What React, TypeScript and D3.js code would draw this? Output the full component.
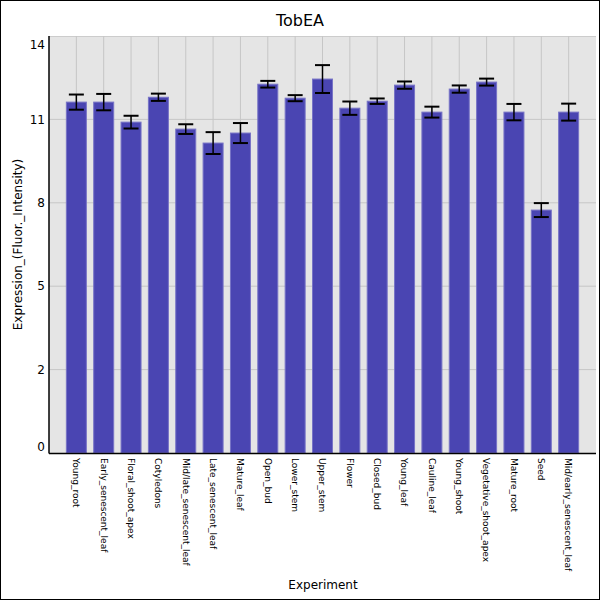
import React, { useEffect } from 'react';
import * as d3 from 'd3';

// Data
const experiments = [
  'Young_root', 'Early_senescent_leaf', 'Floral_shoot_apex', 'Cotyledons',
  'Mid/late_senescent_leaf', 'Late_senescent_leaf', 'Mature_leaf', 'Open_bud',
  'Lower_stem', 'Upper_stem', 'Flower', 'Closed_bud', 'Young_leaf',
  'Cauline_leaf', 'Young_shoot', 'Vegetative_shoot_apex', 'Mature_root', 'Seed',
  'Mid/early_senescent_leaf',
];
const expression = [
  11.57, 11.57, 10.91, 11.73, 10.68, 10.22, 10.55, 12.16, 11.7, 12.33,
  11.37, 11.6, 12.13, 11.24, 12.0, 12.23, 11.24, 8.01, 11.24,
];
const errors = [
  0.25, 0.27, 0.21, 0.12, 0.16, 0.36, 0.33, 0.11, 0.1, 0.46,
  0.22, 0.09, 0.12, 0.18, 0.12, 0.115, 0.27, 0.23, 0.28,
];
const yTicks = [0, 2.75, 5.5, 8.25, 11, 13.75];
const yTickLabels = ['0', '2', '5', '8', '11', '14'];

const W = 600, H = 600;
const margin = { top: 36, right: 4, bottom: 147, left: 49 };
const font = 'DejaVu Sans, sans-serif';

export default function App() {
  useEffect(() => {
    document.body.style.margin = '0';
  }, []);

  const x = d3.scalePoint<string>()
    .domain(experiments)
    .range([margin.left, W - margin.right])
    .padding(1);
  const y = d3.scaleLinear()
    .domain([0, 13.75])
    .range([H - margin.bottom, margin.top]);

  const barW = 20;
  const capW = 15;
  const bottom = y(0);

  return (
    <svg width={W} height={H} style={{ display: 'block' }} fontFamily={font}>
      <rect x={0.5} y={0.5} width={W - 1} height={H - 1} fill="#fff" stroke="#000" />
      <text x={300} y={26} textAnchor="middle" fontSize={16}>TobEA</text>

      {/* plot background */}
      <rect x={margin.left} y={margin.top} width={W - margin.right - margin.left}
        height={bottom - margin.top} fill="#e5e5e5" />
      <line x1={margin.left} x2={W - margin.right} y1={margin.top + 0.5} y2={margin.top + 0.5}
        stroke="#cccccc" />

      {/* grid */}
      {yTicks.slice(1, -1).map(t => (
        <line key={t} x1={margin.left} x2={W - margin.right} y1={y(t)} y2={y(t)}
          stroke="#c6c6c6" strokeWidth={1} />
      ))}
      {experiments.map(e => (
        <line key={e} x1={x(e)} x2={x(e)} y1={margin.top} y2={bottom}
          stroke="#c6c6c6" strokeWidth={1} />
      ))}

      {/* bars */}
      {experiments.map((e, i) => (
        <rect key={e} x={x(e)! - barW / 2} y={y(expression[i])} width={barW}
          height={bottom - y(expression[i])} fill="#4a45b2" stroke="#7773c6" strokeWidth={1} />
      ))}

      {/* error bars */}
      {experiments.map((e, i) => {
        const cx = x(e)!;
        const hi = y(expression[i] + errors[i]);
        const lo = y(expression[i] - errors[i]);
        return (
          <g key={e} stroke="#000">
            <line x1={cx} x2={cx} y1={hi} y2={lo} strokeWidth={1.5} />
            <line x1={cx - capW / 2} x2={cx + capW / 2} y1={hi} y2={hi} strokeWidth={2} />
            <line x1={cx - capW / 2} x2={cx + capW / 2} y1={lo} y2={lo} strokeWidth={2} />
          </g>
        );
      })}

      {/* axes */}
      <line x1={margin.left} x2={margin.left} y1={margin.top} y2={bottom + 0.5} stroke="#000" strokeWidth={1.5} />
      <line x1={margin.left} x2={W - margin.right} y1={bottom + 0.5} y2={bottom + 0.5} stroke="#000" strokeWidth={1.5} />

      {yTicks.map((t, i) => {
        let ty = y(t);
        if (i === 0) ty -= 6;
        if (i === yTicks.length - 1) ty += 9;
        return (
          <text key={t} x={45} y={ty} dy="0.35em" textAnchor="end" fontSize={12}>
            {yTickLabels[i]}
          </text>
        );
      })}

      {experiments.map(e => (
        <text key={e} transform={`translate(${x(e)},${bottom + 5}) rotate(90)`}
          dy="0.35em" fontSize={9}>{e}</text>
      ))}

      <text transform={`translate(22,${(margin.top + bottom) / 2}) rotate(-90)`}
        textAnchor="middle" fontSize={12}>Expression_(Fluor._Intensity)</text>
      <text x={323} y={589} textAnchor="middle" fontSize={12}>Experiment</text>
    </svg>
  );
}
